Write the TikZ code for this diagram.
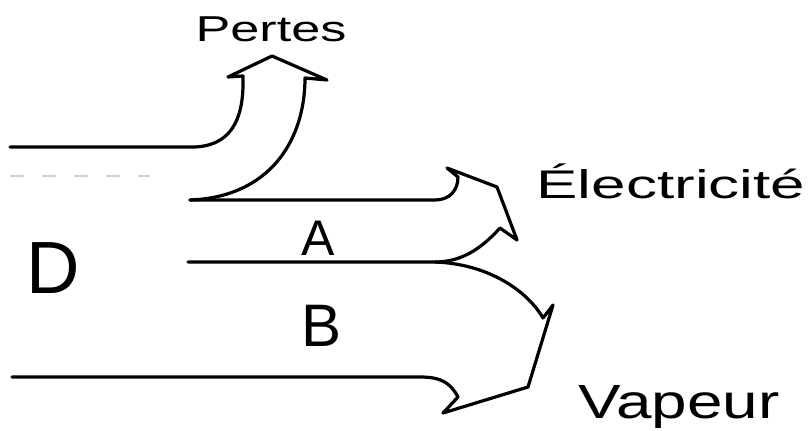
\documentclass[tikz,border=0pt]{standalone}
\usepackage{fontspec}
\setmainfont{Liberation Sans}
\usepackage{graphicx}
\begin{document}
\begin{tikzpicture}[x=1pt,y=-1pt,
  flow/.style={line width=3.2pt,line join=round,line cap=round,black},
  lbl/.style={inner sep=0pt,text=black},
  faint/.style={line width=1.5pt,gray!35,dash pattern=on 14pt off 18pt}]
\useasboundingbox[fill=white] (0,0) rectangle (812,431);
% loss arrow (Pertes)
\draw[flow] (10,147) -- (195,147) .. controls (236,145) and (244,112) .. (243,76)
  -- (228,77) -- (272,56) -- (327,80) -- (305,78)
  .. controls (305,140) and (270,197) .. (190,200);
% electricity arrow
\draw[flow] (190,200) -- (435,200) .. controls (450,200) and (458,190) .. (458,177)
  -- (447,168) -- (497,187) -- (517,240) -- (500,228)
  .. controls (482,248) and (462,262) .. (435,262) -- (188,262);
% steam arrow
\draw[flow] (435,262) .. controls (490,264) and (528,292) .. (543,318)
  -- (553,305) -- (528,387) -- (443,413) -- (458,397)
  .. controls (450,382) and (440,377) .. (420,377) -- (12,377);
% faint dashes
\draw[faint] (10,176) -- (150,176);
% labels
\node[lbl] (pertes) at (271,29) {\scalebox{1.45}[1]{\fontsize{36}{40}\selectfont Pertes}};
\node[lbl] (elec) at (671,181) {\scalebox{1.55}[1]{\fontsize{40}{44}\selectfont Électricité}};
\node[lbl] (vap) at (679,407) {\scalebox{1.33}[1]{\fontsize{48}{52}\selectfont Vapeur}};
\node[lbl] (d) at (53,268) {\fontsize{74}{80}\selectfont D};
\node[lbl] (a) at (318,238) {\fontsize{50}{56}\selectfont A};
\node[lbl] (b) at (322,326) {\fontsize{60}{66}\selectfont B};
\end{tikzpicture}
\end{document}
